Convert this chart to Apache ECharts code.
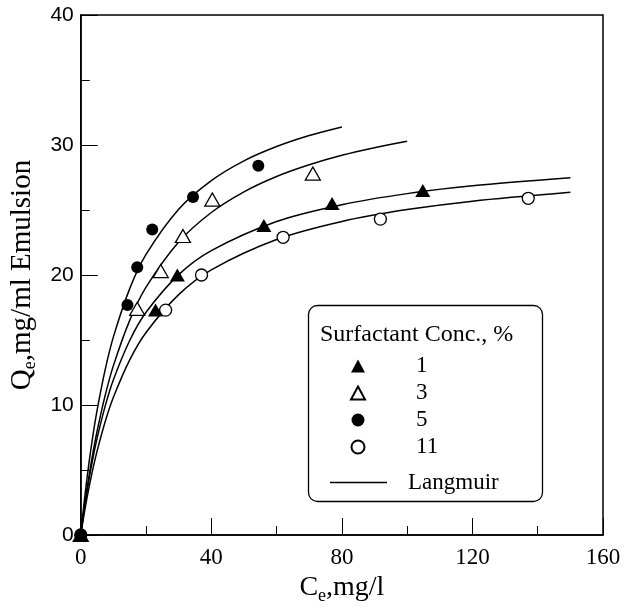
<!DOCTYPE html>
<html>
<head>
<meta charset="utf-8">
<script src="https://cdn.jsdelivr.net/npm/echarts@6.0.0/dist/echarts.min.js"></script>
<style>
  html, body { margin: 0; padding: 0; background: #fff; }
  #chart { width: 625px; height: 611px; }
</style>
</head>
<body>
<div id="chart"></div>
<script>
// measured points, Ce (mg/l) vs Qe (mg/ml emulsion)
var ce1 = [0, 22.9, 29.6, 56.1, 77.0, 104.8];
var qe1 = [0, 17.3, 20.0, 23.8, 25.5, 26.5];
var ce3 = [0, 17.3, 24.5, 31.3, 40.3, 71.1];
var qe3 = [0, 17.4, 20.3, 23.0, 25.8, 27.8];
var ce5 = [0, 14.3, 17.3, 21.9, 34.4, 54.4];
var qe5 = [0, 17.7, 20.6, 23.5, 26.0, 28.4];
var ce11 = [0, 26.0, 37.0, 62.0, 91.8, 137.1];
var qe11 = [0, 17.3, 20.0, 22.9, 24.3, 25.9];

// Langmuir curves
var fit1X = [0, 1, 2, 3.5, 5, 7.5, 10, 15, 20, 30, 40, 60, 80, 100, 120, 150];
var fit1Y = [0, 1.85, 3.49, 5.62, 7.43, 9.93, 11.94, 14.96, 17.13, 20.03, 21.88, 24.12, 25.41, 26.26, 26.86, 27.48];
var fit3X = [0, 1, 2, 3.5, 5, 7.5, 10, 15, 20, 30, 40, 50, 60, 70, 80, 90, 100];
var fit3Y = [0, 1.95, 3.69, 5.99, 7.98, 10.76, 13.03, 16.51, 19.06, 22.54, 24.81, 26.40, 27.58, 28.48, 29.21, 29.79, 30.28];
var fit5X = [0, 1, 2, 3.5, 5, 7.5, 10, 15, 20, 30, 40, 50, 60, 70, 80];
var fit5Y = [0, 2.42, 4.54, 7.28, 9.59, 12.74, 15.24, 18.95, 21.58, 25.06, 27.26, 28.78, 29.88, 30.73, 31.39];
var fit11X = [0, 1, 2, 3.5, 5, 7.5, 10, 15, 20, 30, 40, 60, 80, 100, 120, 150];
var fit11Y = [0, 1.56, 2.97, 4.83, 6.45, 8.73, 10.59, 13.47, 15.58, 18.49, 20.40, 22.73, 24.12, 25.03, 25.68, 26.36];

var xTicks = [0, 40, 80, 120, 160];
var yTicks = [0, 10, 20, 30, 40];

function pairs(xs, ys) {
  var out = [];
  for (var i = 0; i < xs.length; i++) {
    out.push([xs[i], ys[i]]);
  }
  return out;
}

function curve(xs, ys) {
  return {
    name: 'Langmuir',
    type: 'line',
    data: pairs(xs, ys),
    showSymbol: false,
    symbol: 'none',
    smooth: 0.3,
    lineStyle: { color: '#000', width: 1.5 },
    itemStyle: { color: '#000' },
    z: 2
  };
}

var serif = 'Liberation Serif';
var chart = echarts.init(document.getElementById('chart'));

var option = {
  animation: false,
  backgroundColor: '#fff',
  grid: {
    left: 80, right: 22, top: 15, bottom: 76,
    show: true, borderColor: '#000', borderWidth: 1.5
  },
  xAxis: {
    type: 'value',
    min: xTicks[0], max: xTicks[xTicks.length - 1], interval: 40,
    name: '{a|C}{b|e}{a|,mg/l}',
    nameLocation: 'middle',
    nameGap: 30,
    nameTextStyle: {
      rich: {
        a: { fontFamily: serif, fontSize: 28, color: '#000', lineHeight: 34 },
        b: { fontFamily: serif, fontSize: 18, color: '#000', lineHeight: 18, verticalAlign: 'bottom' }
      }
    },
    axisLine: { lineStyle: { color: '#000', width: 1.5 } },
    axisTick: { inside: true, length: 17, lineStyle: { color: '#000', width: 1 } },
    minorTick: { show: true, splitNumber: 2, length: 9, lineStyle: { color: '#000', width: 1 } },
    splitLine: { show: false },
    axisLabel: { fontFamily: serif, fontSize: 23, color: '#000', margin: 11 }
  },
  yAxis: {
    type: 'value',
    min: yTicks[0], max: yTicks[yTicks.length - 1], interval: 10,
    name: '{a|Q}{b|e}{a|,mg/ml Emulsion}',
    nameLocation: 'middle',
    nameRotate: 90,
    nameGap: 40,
    nameTextStyle: {
      rich: {
        a: { fontFamily: serif, fontSize: 29, color: '#000', lineHeight: 34 },
        b: { fontFamily: serif, fontSize: 18, color: '#000', lineHeight: 18, verticalAlign: 'bottom' }
      }
    },
    axisLine: { lineStyle: { color: '#000', width: 1.5 } },
    axisTick: { inside: true, length: 17, lineStyle: { color: '#000', width: 1 } },
    minorTick: { show: true, splitNumber: 2, length: 9, lineStyle: { color: '#000', width: 1 } },
    splitLine: { show: false },
    axisLabel: { fontFamily: 'Liberation Sans', fontSize: 21, color: '#000', margin: 7 }
  },
  legend: [
    {
      data: ['1', '3', '5', '11'],
      orient: 'vertical',
      left: 345, top: 349.5,
      itemWidth: 14, itemHeight: 13, itemGap: 4,
      symbolKeepAspect: true,
      textStyle: { fontFamily: serif, fontSize: 23, color: '#000', lineHeight: 22, padding: [0, 0, 0, 46] },
      selectedMode: false
    },
    {
      data: [{ name: 'Langmuir', icon: 'rect' }],
      orient: 'vertical',
      left: 325, top: 466,
      itemWidth: 57, itemHeight: 1.5,
      textStyle: { fontFamily: serif, fontSize: 23, color: '#000', lineHeight: 22, padding: [0, 0, 0, 16] },
      selectedMode: false
    }
  ],
  graphic: [
    {
      type: 'rect', z: 0,
      shape: { x: 308.5, y: 305.5, width: 234, height: 196, r: 9 },
      style: { fill: '#fff', stroke: '#000', lineWidth: 1.3 }
    },
    {
      type: 'text', z: 1,
      x: 320, y: 335,
      style: { text: 'Surfactant Conc., %', fontFamily: serif, fontSize: 24, fill: '#000', verticalAlign: 'middle' }
    }
  ],
  series: [
    curve(fit1X, fit1Y),
    curve(fit3X, fit3Y),
    curve(fit5X, fit5Y),
    curve(fit11X, fit11Y),
    {
      name: '3', type: 'scatter', data: pairs(ce3, qe3),
      symbol: 'triangle', symbolSize: [15, 13], symbolKeepAspect: true,
      itemStyle: { color: '#fff', borderColor: '#000', borderWidth: 1.3, opacity: 1 }, z: 3
    },
    {
      name: '11', type: 'scatter', data: pairs(ce11, qe11),
      symbol: 'circle', symbolSize: 12,
      itemStyle: { color: '#fff', borderColor: '#000', borderWidth: 1.3, opacity: 1 }, z: 3
    },
    {
      name: '5', type: 'scatter', data: pairs(ce5, qe5),
      symbol: 'circle', symbolSize: 12,
      itemStyle: { color: '#000', opacity: 1 }, z: 3
    },
    {
      name: '1', type: 'scatter', data: pairs(ce1, qe1),
      symbol: 'triangle', symbolSize: [15, 13], symbolKeepAspect: true,
      itemStyle: { color: '#000', opacity: 1 }, z: 3
    }
  ]
};

chart.setOption(option);
</script>
</body>
</html>
